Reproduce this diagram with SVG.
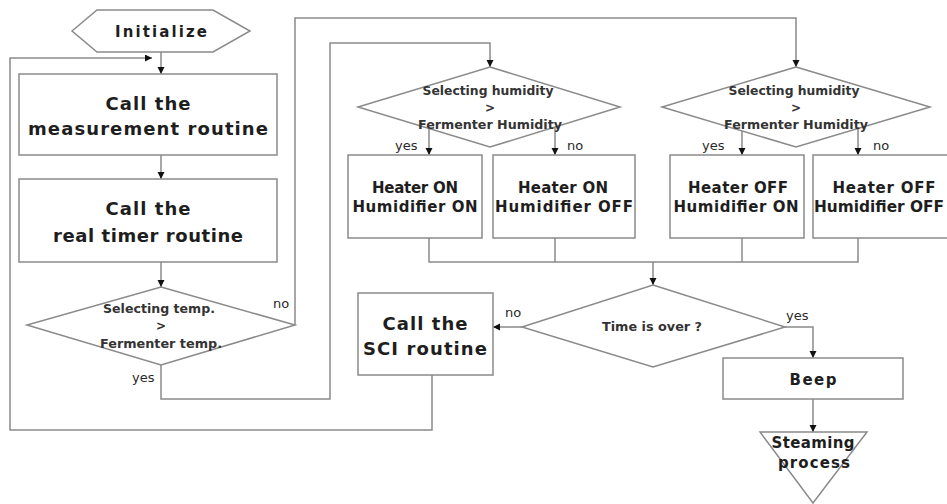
<svg xmlns="http://www.w3.org/2000/svg" width="947" height="504" viewBox="0 0 947 504">
  <style>
    .shape { fill: #ffffff; stroke: #8a8a8a; stroke-width: 1.5; }
    .wire { fill: none; stroke: #8a8a8a; stroke-width: 1.5; }
    .big { font-family: "DejaVu Sans", "Liberation Sans", sans-serif; font-weight: bold; font-size: 18px; fill: #1e1e1e; text-anchor: middle; }
    .mid { font-family: "DejaVu Sans", "Liberation Sans", sans-serif; font-weight: bold; font-size: 15px; fill: #1e1e1e; text-anchor: middle; }
    .small { font-family: "DejaVu Sans", "Liberation Sans", sans-serif; font-weight: bold; font-size: 12px; fill: #333333; text-anchor: middle; }
    .lbl { font-family: "DejaVu Sans", "Liberation Sans", sans-serif; font-size: 13px; fill: #2a2a2a; }
  </style>
  <defs>
    <marker id="arrow" markerUnits="userSpaceOnUse" markerWidth="8" markerHeight="8" refX="7" refY="3.5" orient="auto">
      <path d="M0,0 L7,3.5 L0,7 z" fill="#111111"/>
    </marker>
  </defs>
  <rect width="947" height="504" fill="#ffffff"/>

  <!-- connectors -->
  <g id="connectors">
    <path class="wire" d="M161,52 V74" marker-end="url(#arrow)"/>
    <path class="wire" d="M432,375 V430 H10 V58 H152" marker-end="url(#arrow)"/>
    <path class="wire" d="M161,155 V179" marker-end="url(#arrow)"/>
    <path class="wire" d="M161,262 V287" marker-end="url(#arrow)"/>
    <path class="wire" d="M295,325 V18 H796 V67" marker-end="url(#arrow)"/>
    <path class="wire" d="M161,365 V399 H330 V43 H490 V67" marker-end="url(#arrow)"/>
    <path class="wire" d="M429,128 V155" marker-end="url(#arrow)"/>
    <path class="wire" d="M555,127 V155" marker-end="url(#arrow)"/>
    <path class="wire" d="M742,131 V155" marker-end="url(#arrow)"/>
    <path class="wire" d="M858,128 V155" marker-end="url(#arrow)"/>
    <path class="wire" d="M429,238 V262 H858 V238 M555,238 V262 M742,238 V262"/>
    <path class="wire" d="M653,262 V285" marker-end="url(#arrow)"/>
    <path class="wire" d="M522,327 H493" marker-end="url(#arrow)"/>
    <path class="wire" d="M785,327 H813 V358" marker-end="url(#arrow)"/>
    <path class="wire" d="M813,399 V432" marker-end="url(#arrow)"/>
    <text class="lbl" x="273" y="308">no</text>
    <text class="lbl" x="132" y="382">yes</text>
    <text class="lbl" x="395" y="150">yes</text>
    <text class="lbl" x="567" y="150">no</text>
    <text class="lbl" x="702" y="150">yes</text>
    <text class="lbl" x="873" y="150">no</text>
    <text class="lbl" x="505" y="317">no</text>
    <text class="lbl" x="786" y="320">yes</text>
  </g>

  <!-- start -->
  <g id="initialize">
    <polygon class="shape" points="72,31 97,10 213,10 250,31 213,52 97,52"/>
    <text class="mid" x="161" y="37" textLength="92" lengthAdjust="spacing">Initialize</text>
  </g>

  <g id="measurement">
    <rect class="shape" x="19" y="74" width="258" height="81"/>
    <text class="big" x="148" y="110" textLength="85" lengthAdjust="spacing">Call the</text>
    <text class="big" x="148" y="135" textLength="240" lengthAdjust="spacing">measurement routine</text>
  </g>

  <g id="timer">
    <rect class="shape" x="19" y="179" width="258" height="83"/>
    <text class="big" x="148" y="215" textLength="85" lengthAdjust="spacing">Call the</text>
    <text class="big" x="148" y="242" textLength="190" lengthAdjust="spacing">real timer routine</text>
  </g>

  <g id="temp-check">
    <polygon class="shape" points="161,287 295,325 161,365 27,325"/>
    <text class="small" x="159" y="313" textLength="112" lengthAdjust="spacingAndGlyphs">Selecting temp.</text>
    <text class="small" x="161" y="330">&gt;</text>
    <text class="small" x="161" y="348" textLength="122" lengthAdjust="spacingAndGlyphs">Fermenter temp.</text>
  </g>

  <g id="humidity-check-heat">
    <polygon class="shape" points="490,67 620,107 490,147 358,107"/>
    <text class="small" x="488" y="95" textLength="131" lengthAdjust="spacingAndGlyphs">Selecting humidity</text>
    <text class="small" x="490" y="112">&gt;</text>
    <text class="small" x="490" y="129" textLength="144" lengthAdjust="spacingAndGlyphs">Fermenter Humidity</text>
  </g>

  <g id="humidity-check-cool">
    <polygon class="shape" points="796,67 930,107 796,147 662,107"/>
    <text class="small" x="794" y="95" textLength="131" lengthAdjust="spacingAndGlyphs">Selecting humidity</text>
    <text class="small" x="796" y="112">&gt;</text>
    <text class="small" x="796" y="129" textLength="144" lengthAdjust="spacingAndGlyphs">Fermenter Humidity</text>
  </g>

  <g id="heat-hum-on">
    <rect class="shape" x="348" y="155" width="134" height="83"/>
    <text class="mid" x="415" y="193" textLength="86" lengthAdjust="spacing">Heater ON</text>
    <text class="mid" x="415" y="212" textLength="125" lengthAdjust="spacing">Humidifier ON</text>
  </g>

  <g id="heat-hum-off">
    <rect class="shape" x="493" y="155" width="142" height="83"/>
    <text class="mid" x="563" y="193" textLength="90" lengthAdjust="spacing">Heater ON</text>
    <text class="mid" x="564" y="212" textLength="138" lengthAdjust="spacing">Humidifier OFF</text>
  </g>

  <g id="cool-hum-on">
    <rect class="shape" x="670" y="155" width="134" height="83"/>
    <text class="mid" x="738" y="193" textLength="100" lengthAdjust="spacing">Heater OFF</text>
    <text class="mid" x="736" y="212" textLength="125" lengthAdjust="spacing">Humidifier ON</text>
  </g>

  <g id="cool-hum-off">
    <rect class="shape" x="813" y="155" width="147" height="83"/>
    <text class="mid" x="884" y="193" textLength="103" lengthAdjust="spacing">Heater OFF</text>
    <text class="mid" x="879" y="212" textLength="130" lengthAdjust="spacingAndGlyphs">Humidifier OFF</text>
  </g>

  <g id="time-check">
    <polygon class="shape" points="653,285 785,327 653,367 522,327"/>
    <text class="small" x="652" y="331" textLength="100" lengthAdjust="spacingAndGlyphs">Time is over ?</text>
  </g>

  <g id="sci">
    <rect class="shape" x="358" y="293" width="135" height="82"/>
    <text class="big" x="425" y="330" textLength="85" lengthAdjust="spacing">Call the</text>
    <text class="big" x="425" y="355" textLength="124" lengthAdjust="spacing">SCI routine</text>
  </g>

  <g id="beep">
    <rect class="shape" x="723" y="358" width="180" height="41"/>
    <text class="mid" x="813" y="385" textLength="47" lengthAdjust="spacing">Beep</text>
  </g>

  <g id="steaming">
    <polygon class="shape" points="760,432 867,432 813,503"/>
    <text class="mid" x="813" y="448" textLength="83" lengthAdjust="spacing">Steaming</text>
    <text class="mid" x="814" y="468" textLength="72" lengthAdjust="spacing">process</text>
  </g>
</svg>
